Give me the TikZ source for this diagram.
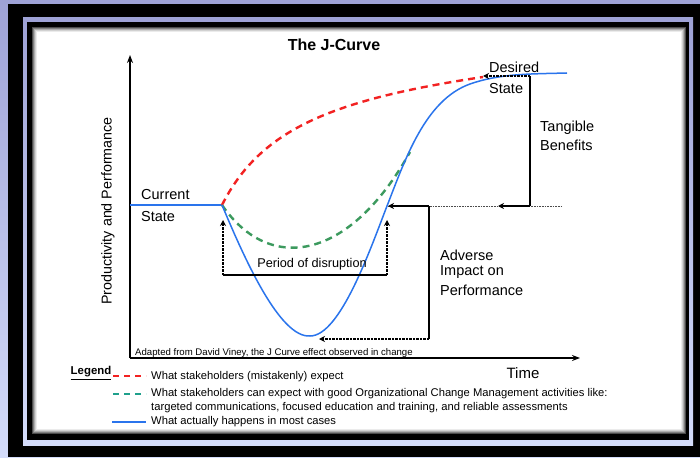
\documentclass[tikz,border=0pt]{standalone}
\usepackage{fontspec}
\setmainfont{Liberation Sans}
\usetikzlibrary{arrows.meta}
\definecolor{bgtop}{HTML}{9EA2D6}
\definecolor{bgbot}{HTML}{D4DCFA}
\definecolor{jred}{HTML}{F22222}
\definecolor{jgreen}{HTML}{3C9A5E}
\definecolor{jteal}{HTML}{1FA08C}
\definecolor{jblue}{HTML}{2A74EC}
\begin{document}
\begin{tikzpicture}[x=1pt,y=-1pt,
  lbl/.style={font=\fontsize{14.5}{16}\selectfont, inner sep=0pt, anchor=west},
  leg/.style={font=\fontsize{11.2}{13}\selectfont, inner sep=0pt, anchor=west},
  tip/.style={-{Stealth[length=6pt,width=6pt]}},
  axisline/.style={line width=2pt, -{Stealth[length=8pt,width=6pt]}},
  solidarr/.style={tip, line width=1.6pt},
  dasharr/.style={tip, line width=1.5pt, dash pattern=on 2.5pt off 1pt},
  thinline/.style={line width=0.8pt, black!70, dash pattern=on 1pt off 0.6pt},
  redc/.style={jred, line width=2.4pt, dash pattern=on 7pt off 5pt},
  greenc/.style={jgreen, line width=2.4pt, dash pattern=on 7pt off 5pt},
  bluec/.style={jblue, line width=1.5pt},
  bar/.style={line width=2pt}]
\useasboundingbox (0,0) rectangle (700,457);
% frame
\fill[top color=bgtop,bottom color=bgbot] (0,0) rectangle (700,457);
\fill[black] (8,4) rectangle (700,457);
\fill[top color=bgtop,bottom color=bgbot] (23,18) rectangle (693,445);
\fill[black] (27,22) rectangle (688.5,440);
\foreach \i/\g in {0/30,1/50,2/68,3/82,4/92}
  \fill[white!\g!black] (32+\i,27+\i) rectangle (686-\i,434-\i);
\fill[white] (37,32) rectangle (681,429);

% title
\node[font=\bfseries\fontsize{16}{18}\selectfont] (title) at (334,45) {The J-Curve};

% axes
\coordinate (O) at (130,358);
\coordinate (ytop) at (130,55);
\coordinate (xend) at (580,358);
\draw[axisline] (O) -- (ytop);
\draw[axisline] (O) -- (xend);
\node[rotate=90, font=\fontsize{14.3}{16}\selectfont] (ylab) at (108,211) {Productivity and Performance};
\node[font=\fontsize{15}{17}\selectfont] (xlab) at (523,373) {Time};
\node[anchor=west, inner sep=0pt, font=\fontsize{9.6}{11}\selectfont] (src) at (135,353) {Adapted from David Viney, the J Curve effect observed in change};

% curves
\coordinate (start) at (222,205);
\coordinate (cs) at (130,205);
\draw[bluec] (cs) -- (start);
\draw[redc] (start) .. controls (260,130) and (330,100) .. (483,77);
\draw[greenc] (start) .. controls (270,275) and (350,260) .. (410,152);
\draw[bluec] (start) .. controls (245,260) and (280,338) .. (310,336)
  .. controls (340,336) and (370,250) .. (387,206)
  .. controls (405,160) and (425,100) .. (470,84)
  .. controls (500,73.5) and (530,74) .. (567,73);

% labels
\node[lbl] (cur1) at (141,195) {Current};
\node[lbl] (cur2) at (141,217) {State};
\node[lbl] (des1) at (489,67) {Desired};
\node[lbl] (des2) at (489,89) {State};
\node[lbl] (tb1) at (540,128) {Tangible};
\node[lbl] (tb2) at (540,145) {Benefits};
\node[lbl] (ad1) at (440,255) {Adverse};
\node[lbl] (ad2) at (440,272) {Impact on};
\node[lbl] (ad3) at (440,290) {Performance};
\node[font=\fontsize{12.7}{14}\selectfont] (pod) at (312,264) {Period of disruption};

% tangible benefits bracket
\coordinate (tbtop) at (530,76);
\coordinate (tbtip) at (483,76);
\coordinate (tbbot) at (530,206);
\coordinate (hr) at (562,206);
\coordinate (hl) at (388,206);
\coordinate (tbtip2) at (498,206);
\coordinate (adtop) at (429,206);
\coordinate (adbot) at (429,339);
\coordinate (adtip) at (319,339);
\draw[thinline] (hr) -- (hl);
\draw[dasharr] (tbtop) -- (tbtip);
\draw[bar] (tbtop) -- (tbbot);
\draw[solidarr] (tbbot) -- (tbtip2);
\draw[solidarr] (adtop) -- (hl);
\draw[bar] (adtop) -- (adbot);
\draw[dasharr] (adbot) -- (adtip);

% period of disruption bracket
\coordinate (pl) at (223,275);
\coordinate (pr) at (387,275);
\coordinate (plt) at (223,220);
\coordinate (prt) at (387,220);
\draw[line width=2.4pt] (pl) -- (pr);
\draw[dasharr] (pl) -- (plt);
\draw[dasharr] (pr) -- (prt);

% legend
\node[font=\bfseries\fontsize{11.4}{13}\selectfont, inner sep=0pt] (legend) at (91,373) {\underline{Legend}};
\coordinate (l1a) at (113,376); \coordinate (l1b) at (146,376);
\coordinate (l2a) at (113,394); \coordinate (l2b) at (146,394);
\coordinate (l3a) at (112,422); \coordinate (l3b) at (146,422);
\draw[jred, line width=2.2pt, dash pattern=on 6pt off 5pt] (l1a) -- (l1b);
\draw[jteal, line width=2.2pt, dash pattern=on 6pt off 5pt] (l2a) -- (l2b);
\draw[jblue, line width=2pt] (l3a) -- (l3b);
\node[leg] (t1) at (151,377) {What stakeholders (mistakenly) expect};
\node[leg] (t2) at (151,394) {What stakeholders can expect with good Organizational Change Management activities like:};
\node[leg] (t2b) at (151,408) {targeted communications, focused education and training, and reliable assessments};
\node[leg] (t3) at (151,422) {What actually happens in most cases};
\end{tikzpicture}
\end{document}
